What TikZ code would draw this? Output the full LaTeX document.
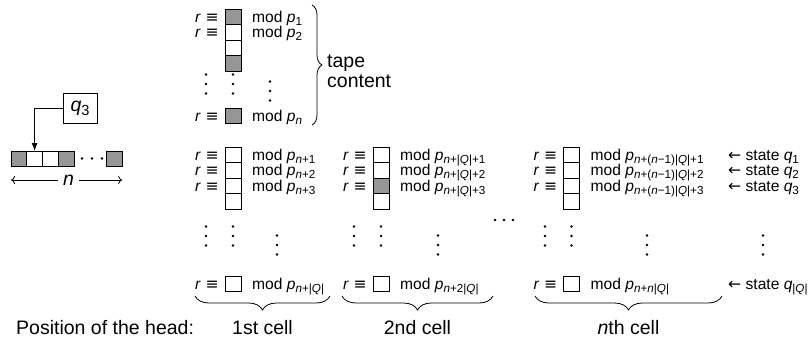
\documentclass[tikz,border=0pt]{standalone}
\usepackage{fontspec}
\setmainfont{Liberation Sans}
\newfontfamily\symf{DejaVu Sans}
\usetikzlibrary{arrows.meta,decorations.pathreplacing,calc}
\definecolor{cellgray}{RGB}{150,150,150}
\newcommand{\bigf}{\fontsize{19.5}{20}\selectfont}
\newcommand{\smallf}{\fontsize{15.6}{17}\selectfont}
\newcommand{\sub}[1]{\raisebox{-0.2em}{\fontsize{11.7}{12}\selectfont #1}}
\newcommand{\subb}[1]{\raisebox{-0.2em}{\fontsize{14.6}{15}\selectfont #1}}
\newcommand{\modp}[1]{mod \textit{p}\sub{#1}}
\newcommand{\req}{\textit{r}\hspace{0.3em}{\symf ≡}}
\newcommand{\nn}{\textit{n}}
\newcommand{\QQ}{|\textit{Q}|}
\newcommand{\vdotsat}[3]{%
  \node[vdot] (#1a) at (#2,{#3-9.5}) {};
  \node[vdot] (#1b) at (#2,#3) {};
  \node[vdot] (#1c) at (#2,{#3+9.5}) {};}
\begin{document}
\begin{tikzpicture}[x=1pt,y=-1pt,
  cellbox/.style={draw=black, line width=0.9pt, fill=white, minimum width=16pt, minimum height=15.5pt, inner sep=0pt, outer sep=0pt},
  graycell/.style={cellbox, fill=cellgray},
  tapecell/.style={cellbox, minimum width=15.75pt, minimum height=15pt},
  graytape/.style={tapecell, fill=cellgray},
  lbl/.style={inner sep=0pt, font=\smallf, anchor=base west},
  bigtext/.style={inner sep=0pt, font=\bigf},
  vdot/.style={circle, fill=black, inner sep=0pt, minimum size=2.6pt},
  bracestyle/.style={decorate, line width=0.8pt, decoration={brace, amplitude=#1}},
  bracestyle/.default=12pt,
  mirrorbrace/.style={decorate, line width=0.8pt, decoration={brace, mirror, amplitude=#1}},
  mirrorbrace/.default=14pt,
]
\useasboundingbox (0,0) rectangle (811,338);

% ---------- left tape ----------
\node[graytape] (L1) at (18.9,158.5) {};
\node[tapecell] (L2) at (34.6,158.5) {};
\node[tapecell] (L3) at (50.4,158.5) {};
\node[graytape] (L4) at (66.1,158.5) {};
\node[graytape] (L5) at (114.3,158.5) {};
\node[vdot] (hd1) at (82,158.5) {};
\node[vdot] (hd2) at (92,158.5) {};
\node[vdot] (hd3) at (102,158.5) {};
\node[draw=black, line width=0.9pt, minimum width=34pt, minimum height=30pt, inner sep=0pt, font=\bigf] (qbox) at (80,108) {\textit{q}\subb{3}};
\draw[line width=0.9pt, -{Latex[length=8pt,width=6pt]}] (qbox.west) -| (L2.north);
\node[bigtext, inner sep=5pt] (nlab) at (68.5,180) {\textit{n}};
\coordinate (nleft) at (L1.west |- nlab.center);
\coordinate (nright) at (L5.east |- nlab.center);
\draw[line width=0.8pt, -{To[length=4pt,width=8pt]}] (nlab.west) -- (nleft);
\draw[line width=0.8pt, -{To[length=4pt,width=8pt]}] (nlab.east) -- (nright);

% ---------- top column (tape content) ----------
\node[graycell] (T1) at (233,17) {};
\node[cellbox] (T2) at (233,32.5) {};
\node[cellbox] (T3) at (233,48) {};
\node[graycell] (T4) at (233,63.5) {};
\node[graycell] (Tn) at (233,116) {};
\node[lbl] (rT1) at ($(T1.west)+(-30,5)$) {\req};
\node[lbl] (rT2) at ($(T2.west)+(-30,5)$) {\req};
\node[lbl] (rTn) at ($(Tn.west)+(-30,5)$) {\req};
\node[lbl] (mT1) at ($(T1.east)+(11,5)$) {\modp{1}};
\node[lbl] (mT2) at ($(T2.east)+(11,5)$) {\modp{2}};
\node[lbl] (mTn) at ($(Tn.east)+(11,5)$) {\modp{\nn}};
\vdotsat{dTr}{206}{84}
\vdotsat{dTc}{233}{84}
\vdotsat{dTm}{270}{91}
\coordinate (bt1) at (312,5);
\coordinate (bt2) at (312,125);
\draw[bracestyle=10pt] (bt1) -- (bt2);
\node[bigtext, anchor=west, align=left] (tape) at (327,71) {tape\\content};

% ---------- column A (1st cell) ----------
\node[cellbox] (A1) at (233,155) {};
\node[cellbox] (A2) at (233,170.5) {};
\node[cellbox] (A3) at (233,186) {};
\node[cellbox] (A4) at (233,201.5) {};
\node[cellbox] (AQ) at (233,284) {};
\node[lbl] (rA1) at ($(A1.west)+(-30,5)$) {\req};
\node[lbl] (rA2) at ($(A2.west)+(-30,5)$) {\req};
\node[lbl] (rA3) at ($(A3.west)+(-30,5)$) {\req};
\node[lbl] (rAQ) at ($(AQ.west)+(-30,5)$) {\req};
\node[lbl] (mA1) at ($(A1.east)+(11,5)$) {\modp{\nn+1}};
\node[lbl] (mA2) at ($(A2.east)+(11,5)$) {\modp{\nn+2}};
\node[lbl] (mA3) at ($(A3.east)+(11,5)$) {\modp{\nn+3}};
\node[lbl] (mAQ) at ($(AQ.east)+(11,5)$) {\modp{\nn+\QQ}};
\vdotsat{dAr}{206}{236}
\vdotsat{dAc}{233}{236}
\vdotsat{dAm}{277}{245}

% ---------- column B (2nd cell) ----------
\node[cellbox] (B1) at (381,155) {};
\node[cellbox] (B2) at (381,170.5) {};
\node[graycell] (B3) at (381,186) {};
\node[cellbox] (B4) at (381,201.5) {};
\node[cellbox] (BQ) at (381,284) {};
\node[lbl] (rB1) at ($(B1.west)+(-30,5)$) {\req};
\node[lbl] (rB2) at ($(B2.west)+(-30,5)$) {\req};
\node[lbl] (rB3) at ($(B3.west)+(-30,5)$) {\req};
\node[lbl] (rBQ) at ($(BQ.west)+(-30,5)$) {\req};
\node[lbl] (mB1) at ($(B1.east)+(11,5)$) {\modp{\nn+\QQ+1}};
\node[lbl] (mB2) at ($(B2.east)+(11,5)$) {\modp{\nn+\QQ+2}};
\node[lbl] (mB3) at ($(B3.east)+(11,5)$) {\modp{\nn+\QQ+3}};
\node[lbl] (mBQ) at ($(BQ.east)+(11,5)$) {\modp{\nn+2\QQ}};
\vdotsat{dBr}{354}{236}
\vdotsat{dBc}{381}{236}
\vdotsat{dBm}{438}{245}

% ---------- horizontal dots between columns ----------
\node[vdot] (md1) at (495,220) {};
\node[vdot] (md2) at (504,220) {};
\node[vdot] (md3) at (513,220) {};

% ---------- column C (nth cell) ----------
\node[cellbox] (C1) at (571.5,155) {};
\node[cellbox] (C2) at (571.5,170.5) {};
\node[cellbox] (C3) at (571.5,186) {};
\node[cellbox] (C4) at (571.5,201.5) {};
\node[cellbox] (CQ) at (571.5,284) {};
\node[lbl] (rC1) at ($(C1.west)+(-30,5)$) {\req};
\node[lbl] (rC2) at ($(C2.west)+(-30,5)$) {\req};
\node[lbl] (rC3) at ($(C3.west)+(-30,5)$) {\req};
\node[lbl] (rCQ) at ($(CQ.west)+(-30,5)$) {\req};
\node[lbl] (mC1) at ($(C1.east)+(11,5)$) {\modp{\nn+(\nn−1)\QQ+1}};
\node[lbl] (mC2) at ($(C2.east)+(11,5)$) {\modp{\nn+(\nn−1)\QQ+2}};
\node[lbl] (mC3) at ($(C3.east)+(11,5)$) {\modp{\nn+(\nn−1)\QQ+3}};
\node[lbl] (mCQ) at ($(CQ.east)+(11,5)$) {\modp{\nn+\nn\QQ}};
\vdotsat{dCr}{545}{236}
\vdotsat{dCc}{571.5}{236}
\vdotsat{dCm}{647}{245}

% ---------- states ----------
\node[lbl] (s1) at (728,160) {{\symf ←} state \textit{q}\sub{1}};
\node[lbl] (s2) at (728,175.5) {{\symf ←} state \textit{q}\sub{2}};
\node[lbl] (s3) at (728,191) {{\symf ←} state \textit{q}\sub{3}};
\node[lbl] (sQ) at (728,289) {{\symf ←} state \textit{q}\sub{\QQ}};
\vdotsat{dS}{763}{245}

% ---------- braces and bottom labels ----------
\coordinate (ba1) at (195,296);
\coordinate (ba2) at (330,296);
\coordinate (bb1) at (342,296);
\coordinate (bb2) at (493,296);
\coordinate (bc1) at (535,296);
\coordinate (bc2) at (722,296);
\draw[mirrorbrace] (ba1) -- (ba2);
\draw[mirrorbrace] (bb1) -- (bb2);
\draw[mirrorbrace] (bc1) -- (bc2);
\node[bigtext, anchor=base] (c1) at (262.5,334) {1st cell};
\node[bigtext, anchor=base] (c2) at (417.5,334) {2nd cell};
\node[bigtext, anchor=base] (c3) at (628.5,334) {\textit{n}th cell};
\node[bigtext, anchor=base west] (pos) at (16,334) {Position of the head:};
\end{tikzpicture}
\end{document}
